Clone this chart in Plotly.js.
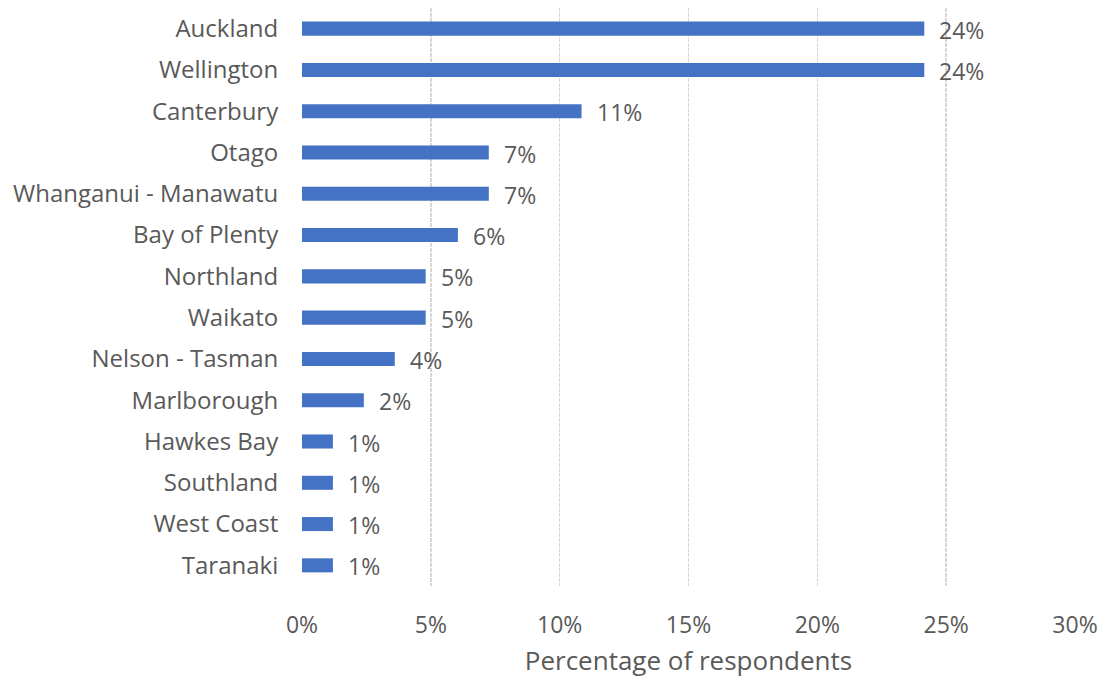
<!DOCTYPE html>
<html>
<head>
<meta charset="utf-8">
<script src="https://cdn.plot.ly/plotly-3.0.1.min.js"></script>
<style>html,body{margin:0;padding:0;background:#fff;}#chart{width:1105px;height:680px;}</style>
</head>
<body>
<div id="chart"></div>
<script>
const regions = ["Auckland","Wellington","Canterbury","Otago","Whanganui - Manawatu","Bay of Plenty","Northland","Waikato","Nelson - Tasman","Marlborough","Hawkes Bay","Southland","West Coast","Taranaki"];
const percentages = [24.15,24.15,10.85,7.25,7.25,6.05,4.8,4.8,3.6,2.4,1.2,1.2,1.2,1.2];
const tickValues = [0,5,10,15,20,25,30];
const tickLabels = ["0%","5%","10%","15%","20%","25%","30%"];
const labels = percentages.map(v => Math.round(v) + "%");

const trace = {
  type: "bar",
  orientation: "h",
  y: regions,
  x: percentages,
  width: 0.34,
  marker: {color: "#4472C4"},
  hoverinfo: "none"
};

const annotations = regions.map((r, i) => ({
  x: percentages[i], y: r, xref: "x", yref: "y",
  text: labels[i], showarrow: false,
  xanchor: "left", yanchor: "middle", xshift: 13, yshift: -1,
  font: {family: "Open Sans", size: 23, color: "#595959"}
}));

const layout = {
  width: 1105, height: 680,
  margin: {l: 302, r: 30, t: 8, b: 94},
  paper_bgcolor: "#fff", plot_bgcolor: "#fff",
  showlegend: false,
  font: {family: "Open Sans", color: "#595959"},
  annotations: annotations,
  xaxis: {
    range: [0, 30],
    tickvals: tickValues,
    ticktext: tickLabels,
    tickfont: {size: 23, color: "#595959"},
    showgrid: true, gridcolor: "#d6d6d6", gridwidth: 1.5, griddash: "4px,1px",
    zeroline: false, showline: false,
    ticks: "outside", ticklen: 18, tickcolor: "rgba(0,0,0,0)",
    title: {text: "Percentage of respondents", font: {size: 26, color: "#595959"}, standoff: 13},
    automargin: false
  },
  yaxis: {
    autorange: "reversed",
    tickfont: {size: 24, color: "#595959"},
    showgrid: false, zeroline: false, showline: false,
    ticks: "outside", ticklen: 18, tickcolor: "rgba(0,0,0,0)",
    automargin: false
  }
};

Plotly.newPlot("chart", [trace], layout, {displayModeBar: false, staticPlot: true});
</script>
</body>
</html>
